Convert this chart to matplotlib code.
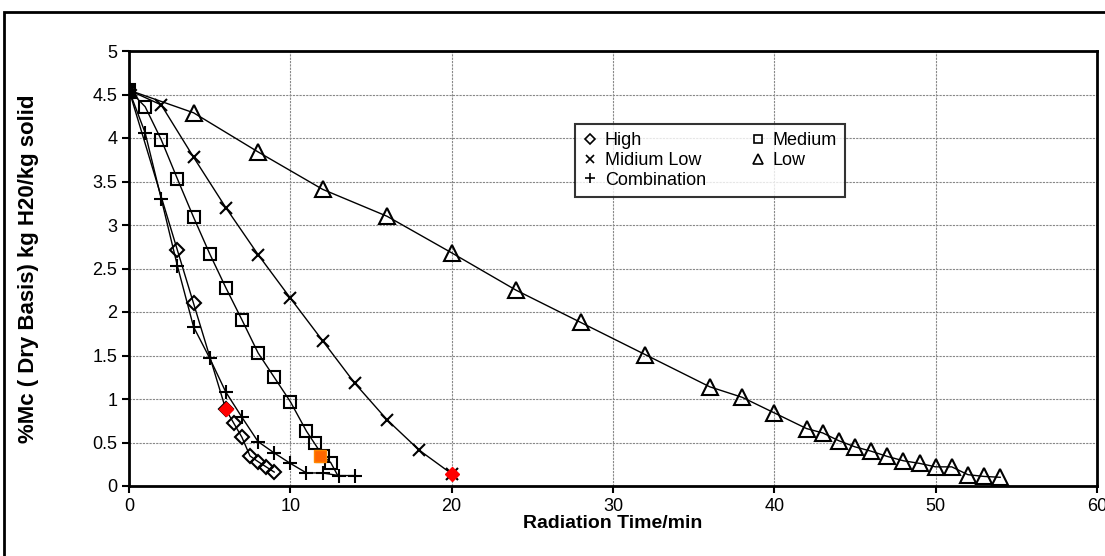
import matplotlib
matplotlib.use("Agg")
import matplotlib.pyplot as plt
from matplotlib.patches import Rectangle

plt.rcParams['font.family'] = ['Liberation Sans', 'DejaVu Sans']

# drying curves, moisture content vs radiation time
high_t = [0, 3, 4, 6, 6.5, 7, 7.5, 8, 8.5, 9]
high_mc = [4.55, 2.71, 2.1, 0.88, 0.72, 0.56, 0.345, 0.28, 0.22, 0.16]

medium_t = [0, 1, 2, 3, 4, 5, 6, 7, 8, 9, 10, 11, 11.5, 12, 12.5, 13]
medium_mc = [4.55, 4.36, 3.98, 3.53, 3.09, 2.67, 2.28, 1.91, 1.53, 1.25, 0.97, 0.63, 0.49, 0.35, 0.27, 0.1]

midlow_t = [0, 2, 4, 6, 8, 10, 12, 14, 16, 18, 20]
midlow_mc = [4.55, 4.38, 3.78, 3.2, 2.66, 2.16, 1.67, 1.18, 0.76, 0.41, 0.14]

low_t = [0, 4, 8, 12, 16, 20, 24, 28, 32, 36, 38, 40, 42, 43, 44, 45, 46, 47,
         48, 49, 50, 51, 52, 53, 54]
low_mc = [4.55, 4.29, 3.84, 3.41, 3.1, 2.68, 2.25, 1.88, 1.51, 1.14, 1.02, 0.84, 0.66,
          0.61, 0.52, 0.45, 0.4, 0.34, 0.29, 0.26, 0.22, 0.22, 0.13, 0.11, 0.1]

comb_t = [0, 1, 2, 3, 4, 5, 6, 7, 8, 9, 10, 11, 12, 13, 14]
comb_mc = [4.55, 4.06, 3.3, 2.53, 1.83, 1.47, 1.08, 0.79, 0.51, 0.38, 0.26, 0.15, 0.15, 0.12, 0.12]

# highlighted end points
red_t = [6, 20]
red_mc = [0.88, 0.14]
orange_t = [11.85]
orange_mc = [0.35]

fig = plt.figure(figsize=(11.05, 5.56), dpi=100)
ax = fig.add_axes([129/1105, 1 - 486/556, (1097 - 129)/1105, (486 - 51)/556])

# outer chart frame
fig.patches.append(Rectangle((4/1105, -0.1), 1.2, 1 - 12/556 + 0.1, transform=fig.transFigure,
                             fill=False, edgecolor='black', linewidth=2, clip_on=False))

mk = dict(color='black', linewidth=1.0, markerfacecolor='none', markeredgecolor='black',
          markeredgewidth=1.5)
ax.plot(high_t, high_mc, marker='D', markersize=7, label='High', **mk)
ax.plot(midlow_t, midlow_mc, marker='x', markersize=9, label='Midium Low', **mk)
ax.plot(comb_t, comb_mc, marker='+', markersize=10, label='Combination', **mk)
ax.plot(medium_t, medium_mc, marker='s', markersize=9, label='Medium',
        markevery=list(range(len(medium_t) - 1)), **mk)
ax.plot(low_t, low_mc, marker='^', markersize=11, label='Low', **mk)

ax.plot(orange_t, orange_mc, linestyle='none', marker='s', markersize=8,
        color='#ff6600', markeredgecolor='#ff8800')
ax.plot(red_t, red_mc, linestyle='none', marker='D', markersize=7, color='red')

ax.set_xlim(0, 60)
ax.set_ylim(0, 5)
ax.set_xticks(range(0, 61, 10))
ax.set_yticks([i * 0.5 for i in range(11)])
ax.set_yticklabels(['0', '0.5', '1', '1.5', '2', '2.5', '3', '3.5', '4', '4.5', '5'])
ax.tick_params(labelsize=13, direction='out', length=5, width=1.5)
ax.grid(True, color='#888888', linestyle=(0, (2, 1)), linewidth=0.8)
ax.set_axisbelow(True)
for s in ax.spines.values():
    s.set_linewidth(2)

ax.set_xlabel('Radiation Time/min', fontsize=14, fontweight='bold', labelpad=0)
ax.set_ylabel('%Mc ( Dry Basis) kg H20/kg solid', fontsize=16, fontweight='bold')
ax.yaxis.set_label_coords((39 - 129)/968, 0.5)

leg = ax.legend(ncol=2, loc='upper left', bbox_to_anchor=((575 - 129)/968, 1 - (124 - 51)/435),
                fontsize=13, frameon=True, fancybox=False, edgecolor='black',
                markerscale=0.7, handlelength=0.8, handletextpad=0.4, columnspacing=2.5,
                labelspacing=0.15, borderpad=0.45, borderaxespad=0)
leg.get_frame().set_linewidth(1.5)
for h in leg.legend_handles:
    h.set_linestyle('none')
    h.set_markeredgewidth(1.2)

fig.savefig('out.png', dpi=100)
